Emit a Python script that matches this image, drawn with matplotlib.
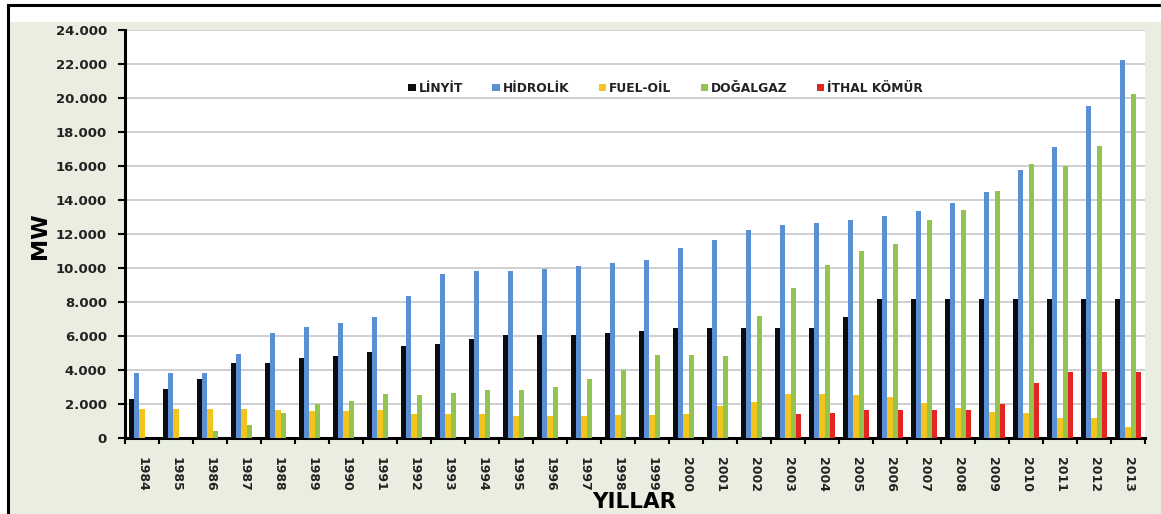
import numpy as np
import matplotlib
matplotlib.use("Agg")
import matplotlib.pyplot as plt
from matplotlib.patches import Rectangle
from matplotlib.lines import Line2D
from matplotlib.ticker import FixedLocator, FuncFormatter

# =====================================================
# =========       Data   =========
# =====================================================

YEARS = list(range(1984, 2014))

LINYIT = [2300, 2900, 3500, 4400, 4400, 4700, 4850, 5050, 5400, 5550,
          5800, 6050, 6050, 6050, 6200, 6300, 6450, 6450, 6450, 6450,
          6450, 7100, 8150, 8150, 8150, 8150, 8150, 8150, 8150, 8150]
HIDROLIK = [3850, 3850, 3850, 4950, 6200, 6550, 6750, 7100, 8350, 9650,
            9850, 9850, 9950, 10100, 10300, 10500, 11150, 11650, 12250, 12550,
            12650, 12850, 13050, 13350, 13800, 14500, 15750, 17100, 19550, 22250]
FUEL_OIL = [1700, 1700, 1700, 1700, 1650, 1600, 1600, 1650, 1400, 1400,
            1400, 1300, 1300, 1300, 1350, 1350, 1400, 1900, 2100, 2600,
            2600, 2550, 2400, 2050, 1750, 1550, 1450, 1150, 1150, 650]
DOGALGAZ = [0, 0, 400, 750, 1500, 2000, 2150, 2600, 2550, 2650,
            2800, 2850, 3000, 3450, 4000, 4900, 4900, 4800, 7200, 8850,
            10150, 11000, 11400, 12850, 13400, 14550, 16100, 16000, 17150, 20250]
ITHAL_KOMUR = [0, 0, 0, 0, 0, 0, 0, 0, 0, 0,
               0, 0, 0, 0, 0, 0, 0, 0, 0, 1400,
               1500, 1650, 1650, 1650, 1650, 2000, 3250, 3900, 3900, 3900]

SERIES_NAMES = ["LİNYİT", "HİDROLİK", "FUEL-OİL", "DOĞALGAZ", "İTHAL KÖMÜR"]
SERIES_COLORS = ["#0b0b12", "#5a8fd6", "#f2c41e", "#92c450", "#e52521"]

Y_TICKS = list(range(0, 24001, 2000))

# =====================================================
# =========       Layout constants            =========
# =====================================================

W, H, DPI = 1161, 514, 100
BG_GREEN = "#e9eee1"
FONT = "DejaVu Sans"


def thousands(v, _pos=None):
    return f"{int(v):,}".replace(",", ".")


def main():
    plt.rcParams["font.family"] = [FONT]
    fig = plt.figure(figsize=(W / DPI, H / DPI), dpi=DPI)
    fig.patch.set_facecolor("white")

    # greenish chart area + black frame (top and left visible)
    fig.patches.append(Rectangle((10 / W, 0), 1.0, 1 - 22 / H, transform=fig.transFigure,
                                 facecolor=BG_GREEN, edgecolor="none", zorder=-10))
    fig.lines.append(Line2D([8 / W, 8 / W], [0, 1 - 5 / H], transform=fig.transFigure,
                            color="black", lw=2.2, zorder=-5))
    fig.lines.append(Line2D([8 / W, 1], [1 - 5 / H, 1 - 5 / H], transform=fig.transFigure,
                            color="black", lw=2.2, zorder=-5))

    left, right = 125 / W, 1145 / W
    bottom, top = 1 - 438 / H, 1 - 30 / H
    ax = fig.add_axes([left, bottom, right - left, top - bottom])
    ax.set_facecolor("white")

    series = [LINYIT, HIDROLIK, FUEL_OIL, DOGALGAZ, ITHAL_KOMUR]
    x = np.arange(len(YEARS))
    step = 0.16
    for i, (vals, name, col) in enumerate(zip(series, SERIES_NAMES, SERIES_COLORS)):
        vals = np.asarray(vals, dtype=float)
        vals[vals == 0] = np.nan  # no stub for missing years
        ax.bar(x + (i - 2) * step, vals, width=step * 0.92, color=col, label=name,
               linewidth=0, zorder=3)

    ax.set_xlim(-0.5, len(YEARS) - 0.5)
    ax.set_ylim(0, 24000)

    ax.yaxis.set_major_locator(FixedLocator(Y_TICKS))
    ax.yaxis.set_major_formatter(FuncFormatter(thousands))
    ax.grid(axis="y", color="#cfcfcf", lw=1.4, zorder=0)
    ax.set_axisbelow(True)

    ax.set_xticks(x)
    ax.set_xticklabels([str(y) for y in YEARS], rotation=270, fontsize=9, fontweight="bold",
                       color="#222222")
    ax.set_xticks(np.arange(-0.5, len(YEARS)), minor=True)
    ax.tick_params(axis="x", which="major", length=0, pad=14)
    ax.tick_params(axis="x", which="minor", length=4, width=1.5, direction="out")
    ax.tick_params(axis="y", length=5, width=1.5, direction="out", labelsize=9.5, pad=8,
                   labelcolor="#222222")
    for lab in ax.get_yticklabels():
        lab.set_fontweight("bold")

    for s in ["top", "right"]:
        ax.spines[s].set_visible(False)
    ax.spines["left"].set_linewidth(2.2)
    ax.spines["bottom"].set_linewidth(2.2)

    ax.set_ylabel("MW", fontsize=16, fontweight="bold")
    ax.yaxis.set_label_coords(-0.074, 0.495)
    fig.text(634 / W, 1 - 502 / H, "YILLAR", fontsize=15.5, fontweight="bold",
             ha="center", va="center")

    leg = ax.legend(loc="center", bbox_to_anchor=(0.53, 0.857), ncol=5, frameon=False,
                    handlelength=0.6, handleheight=0.6, handletextpad=0.25,
                    columnspacing=2.4, prop={"size": 8.8, "weight": "bold"})
    for t in leg.get_texts():
        t.set_color("#222222")

    fig.savefig("out.png", dpi=DPI)
    plt.close(fig)


if __name__ == "__main__":
    main()
